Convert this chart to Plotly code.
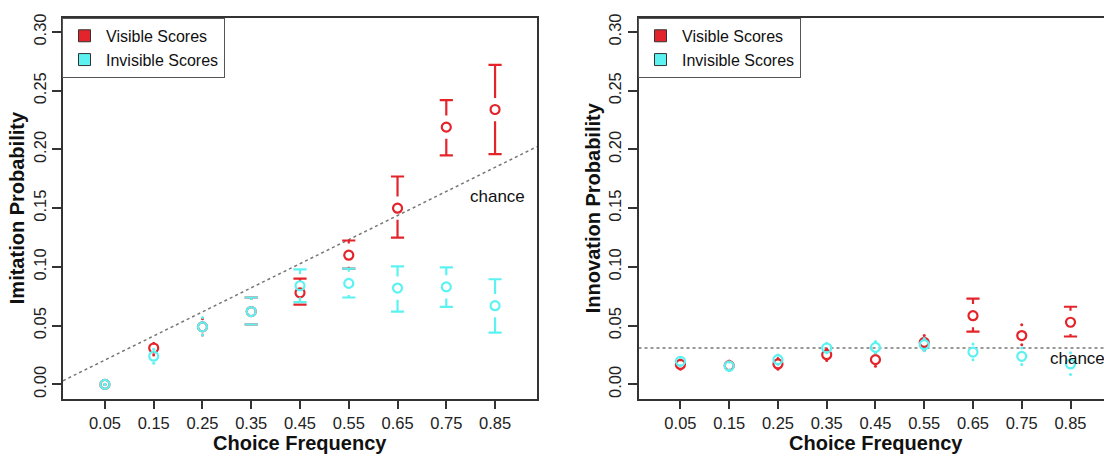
import plotly.graph_objects as go

# ---------------- data ----------------
freq = [0.05, 0.15, 0.25, 0.35, 0.45, 0.55, 0.65, 0.75, 0.85]
freq_labels = ["0.05", "0.15", "0.25", "0.35", "0.45", "0.55", "0.65", "0.75", "0.85"]
y_ticks = [0.00, 0.05, 0.10, 0.15, 0.20, 0.25, 0.30]
y_tick_labels = ["0.00", "0.05", "0.10", "0.15", "0.20", "0.25", "0.30"]

# Imitation (left panel)
imit_vis_mean = [0.000, 0.031, 0.049, 0.062, 0.078, 0.110, 0.150, 0.219, 0.234]
imit_vis_lo = [0.000, 0.025, 0.042, 0.051, 0.068, 0.0985, 0.125, 0.195, 0.196]
imit_vis_hi = [0.000, 0.035, 0.056, 0.074, 0.090, 0.1225, 0.177, 0.242, 0.272]
imit_inv_mean = [0.000, 0.024, 0.049, 0.062, 0.084, 0.086, 0.082, 0.083, 0.067]
imit_inv_lo = [0.000, 0.018, 0.042, 0.051, 0.070, 0.074, 0.062, 0.066, 0.044]
imit_inv_hi = [0.000, 0.030, 0.057, 0.074, 0.098, 0.0985, 0.1005, 0.0997, 0.0895]
imit_chance_intercept = 0.0105
imit_chance_slope = 0.205

# Innovation (right panel)
innov_vis_mean = [0.017, 0.016, 0.0174, 0.0253, 0.0211, 0.0357, 0.0585, 0.0416, 0.0529]
innov_vis_lo = [0.013, 0.012, 0.013, 0.0203, 0.0155, 0.029, 0.045, 0.0338, 0.0408]
innov_vis_hi = [0.021, 0.020, 0.022, 0.030, 0.027, 0.0416, 0.0731, 0.0507, 0.0661]
innov_inv_mean = [0.0197, 0.0155, 0.0211, 0.031, 0.0315, 0.0338, 0.0275, 0.0239, 0.0174]
innov_inv_lo = [0.016, 0.012, 0.017, 0.027, 0.027, 0.0287, 0.0211, 0.0169, 0.0084]
innov_inv_hi = [0.023, 0.019, 0.025, 0.035, 0.0366, 0.039, 0.0343, 0.031, 0.027]
innov_chance = 0.031

series_names = ["Visible Scores", "Invisible Scores"]

# ---------------- style ----------------
RED = "#E3242B"
CYAN = "#5DF2F2"
FONT = "Liberation Sans, Arial, Helvetica, sans-serif"
GAP = 0.0099      # gap between point and CI bar (y units)
CAP = 0.0135      # half cap width (x units)
W, H = 1104, 456
XR_L = [-0.036, 0.936]
XR_R = [-0.036, 0.9187]
YR = [-0.012, 0.312]
dom_y = [1 - 398 / H, 1 - 14 / H]
dom_xl = [63 / W, 537 / W]
dom_xr = [638.5 / W, 1.0]

fig = go.Figure()


def add_ci(x, mean, lo, hi, color, xa, ya):
    sx, sy, dx, dy = [], [], [], []
    for xi, m, l, h in zip(x, mean, lo, hi):
        if h > m + GAP:
            sx += [xi, xi, None, xi - CAP, xi + CAP, None]
            sy += [h, m + GAP, None, h, h, None]
        else:
            dx.append(xi); dy.append(h)
        if l < m - GAP:
            sx += [xi, xi, None, xi - CAP, xi + CAP, None]
            sy += [l, m - GAP, None, l, l, None]
        else:
            dx.append(xi); dy.append(l)
    fig.add_trace(go.Scatter(x=sx, y=sy, mode="lines", xaxis=xa, yaxis=ya,
                             line=dict(color=color, width=2.2), showlegend=False,
                             hoverinfo="skip"))
    fig.add_trace(go.Scatter(x=dx, y=dy, mode="markers", xaxis=xa, yaxis=ya,
                             marker=dict(color=color, size=3), showlegend=False,
                             hoverinfo="skip"))
    fig.add_trace(go.Scatter(x=x, y=mean, mode="markers", xaxis=xa, yaxis=ya,
                             marker=dict(symbol="circle-open", size=9, color=color,
                                         line=dict(width=2.2, color=color)),
                             showlegend=False))


# chance lines
fig.add_trace(go.Scatter(x=XR_L, y=[imit_chance_intercept + imit_chance_slope * v for v in XR_L],
                         mode="lines", xaxis="x", yaxis="y", showlegend=False,
                         line=dict(color="#777777", width=1.5, dash="dot")))
fig.add_trace(go.Scatter(x=XR_R, y=[innov_chance, innov_chance],
                         mode="lines", xaxis="x2", yaxis="y2", showlegend=False,
                         line=dict(color="#777777", width=1.5, dash="dot")))

add_ci(freq, imit_vis_mean, imit_vis_lo, imit_vis_hi, RED, "x", "y")
add_ci(freq, imit_inv_mean, imit_inv_lo, imit_inv_hi, CYAN, "x", "y")
add_ci(freq, innov_vis_mean, innov_vis_lo, innov_vis_hi, RED, "x2", "y2")
add_ci(freq, innov_inv_mean, innov_inv_lo, innov_inv_hi, CYAN, "x2", "y2")

# legend entries
for lg, xa, ya in [("legend", "x", "y"), ("legend2", "x2", "y2")]:
    for name, col in zip(series_names, [RED, CYAN]):
        fig.add_trace(go.Scatter(x=[None], y=[None], mode="markers", name=name,
                                 xaxis=xa, yaxis=ya, legend=lg,
                                 marker=dict(symbol="square", size=12, color=col,
                                             line=dict(color="#333333", width=1))))

axis_common = dict(showline=True, linecolor="#333333", linewidth=1.5,
                   ticks="outside", ticklen=9, tickwidth=1.5, tickcolor="#333333",
                   showgrid=False, zeroline=False,
                   tickfont=dict(family=FONT, size=16.5, color="#222222"))

legend_common = dict(bgcolor="white", bordercolor="#555555", borderwidth=1,
                     font=dict(family=FONT, size=16, color="#111111"),
                     xanchor="left", yanchor="top", tracegroupgap=0, itemwidth=33)

fig.update_layout(
    width=W, height=H,
    margin=dict(l=0, r=0, t=0, b=0),
    paper_bgcolor="white", plot_bgcolor="white",
    xaxis=dict(domain=dom_xl, range=XR_L, anchor="y", mirror=True,
               tickvals=freq, ticktext=freq_labels, **axis_common),
    yaxis=dict(domain=dom_y, range=YR, anchor="x", mirror=True,
               tickvals=y_ticks, ticktext=y_tick_labels, tickangle=-90, **axis_common),
    xaxis2=dict(domain=dom_xr, range=XR_R, anchor="y2", mirror=True,
                tickvals=freq, ticktext=freq_labels, **axis_common),
    yaxis2=dict(domain=dom_y, range=YR, anchor="x2", mirror=False,
                tickvals=y_ticks, ticktext=y_tick_labels, tickangle=-90, **axis_common),
    legend=dict(x=62 / W, y=1 - 14 / H, **legend_common),
    legend2=dict(x=638 / W, y=1 - 14 / H, **legend_common),
    showlegend=True,
)

ann_font = dict(family=FONT, size=20, color="#111111")
fig.add_annotation(text="<b>Choice Frequency</b>", xref="paper", yref="paper",
                   x=300 / W, y=0, showarrow=False, font=ann_font,
                   xanchor="center", yanchor="bottom")
fig.add_annotation(text="<b>Choice Frequency</b>", xref="paper", yref="paper",
                   x=876 / W, y=0, showarrow=False, font=ann_font,
                   xanchor="center", yanchor="bottom")
fig.add_annotation(text="<b>Imitation Probability</b>", xref="paper", yref="paper",
                   x=17 / W, y=1 - 206 / H, showarrow=False, font=ann_font,
                   textangle=-90, xanchor="center", yanchor="middle")
fig.add_annotation(text="<b>Innovation Probability</b>", xref="paper", yref="paper",
                   x=593 / W, y=1 - 206 / H, showarrow=False, font=ann_font,
                   textangle=-90, xanchor="center", yanchor="middle")
fig.add_annotation(text="chance", xref="x", yref="y", x=0.855, y=0.160,
                   showarrow=False, font=dict(family=FONT, size=17, color="#111111"))
fig.add_annotation(text="chance", xref="x2", yref="y2", x=0.865, y=0.0217,
                   showarrow=False, font=dict(family=FONT, size=17, color="#111111"))

fig.write_html("out.html", config={"displayModeBar": False},
               post_script="document.body.style.margin='0';document.body.style.overflow='hidden';")
